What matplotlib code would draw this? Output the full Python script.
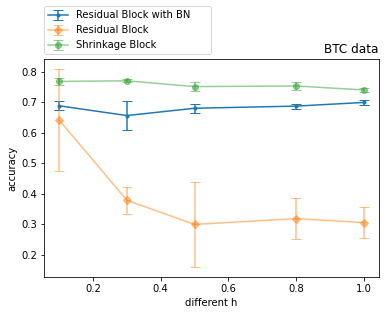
import matplotlib
matplotlib.use("Agg")
import matplotlib.pyplot as plt

h = [0.1, 0.3, 0.5, 0.8, 1.0]
bn_mean = [0.688, 0.656, 0.680, 0.687, 0.699]
bn_err = [0.015, 0.048, 0.014, 0.008, 0.009]
res_mean = [0.641, 0.378, 0.299, 0.318, 0.305]
res_err = [0.168, 0.045, 0.140, 0.066, 0.050]
shr_mean = [0.768, 0.770, 0.751, 0.753, 0.740]
shr_err = [0.012, 0.005, 0.014, 0.013, 0.008]
labels = ["Residual Block with BN", "Residual Block", "Shrinkage Block"]

fig = plt.figure(figsize=(389/72, 315/72), dpi=72)
ax = fig.add_axes([44/389, 1-277/315, (379-44)/389, (277-59)/315])
ax.errorbar(h, bn_mean, yerr=bn_err, marker='.', capsize=5, color='C0', label=labels[0])
ax.errorbar(h, res_mean, yerr=res_err, marker='D', markersize=5, capsize=5, color='C1', alpha=0.5, label=labels[1])
ax.errorbar(h, shr_mean, yerr=shr_err, marker='o', capsize=5, color='C2', alpha=0.5, label=labels[2])
ax.set_xlabel("different h")
ax.set_ylabel("accuracy")
ax.set_title("BTC data", loc='right')
ax.legend(loc='lower left', bbox_to_anchor=(0, 1 + 5/218, 167/335, 0.2),
          mode='expand', borderaxespad=0)
fig.savefig("out.png", dpi=72)
